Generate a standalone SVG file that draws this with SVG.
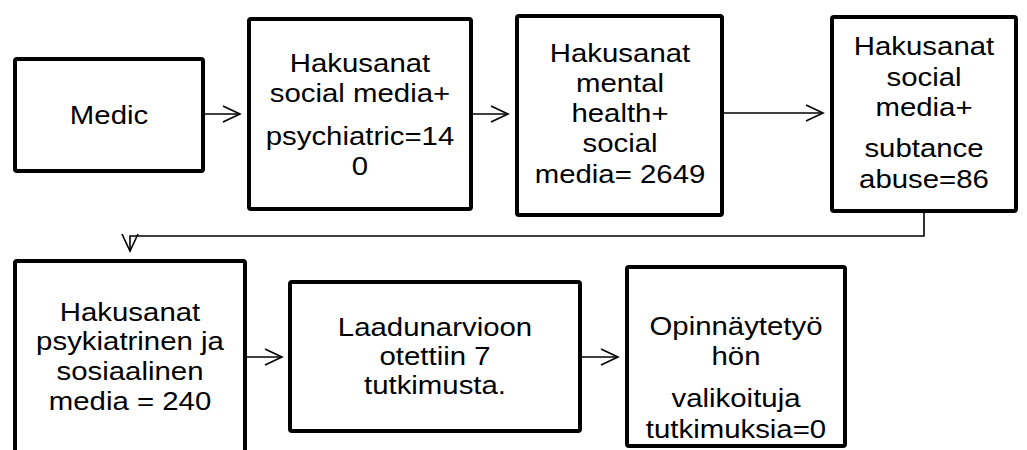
<svg xmlns="http://www.w3.org/2000/svg" width="1027" height="450" viewBox="0 0 1027 450">
  <style>
    .box { fill: #ffffff; stroke: #000000; stroke-width: 4; }
    .lbl { font-family: "Liberation Sans", Arial, sans-serif; font-size: 26px; fill: #000000; text-anchor: middle; }
    .link { fill: none; stroke: #000000; stroke-width: 1.6; marker-end: url(#open); }
  </style>
  <defs>
    <marker id="open" viewBox="0 0 20 20" refX="18" refY="10" markerWidth="20" markerHeight="20" markerUnits="userSpaceOnUse" orient="auto">
      <path d="M1,2 L18,10 L1,18" fill="none" stroke="#000000" stroke-width="1.6"/>
    </marker>
  </defs>

  <!-- connectors -->
  <g id="connectors">
    <path class="link" d="M205,114 H240"/>
    <path class="link" d="M473,114 H508"/>
    <path class="link" d="M724,113 H823"/>
    <path class="link" d="M924,213 V236 H130 V251"/>
    <path class="link" d="M247,357 H282"/>
    <path class="link" d="M582,357 H618"/>
  </g>

  <!-- labels are set slightly wide: scale(1.13 1) around each box centre -->
  <g id="medic">
    <rect class="box" x="15" y="59" width="188" height="112" rx="2"/>
    <text class="lbl" transform="translate(109 0) scale(1.13 1)"><tspan x="0" y="124">Medic</tspan></text>
  </g>

  <g id="search-psychiatric">
    <rect class="box" x="249" y="19" width="222" height="190" rx="2"/>
    <text class="lbl" transform="translate(360 0) scale(1.13 1)"><tspan x="0" y="72">Hakusanat</tspan><tspan x="0" y="102">social media+</tspan><tspan x="0" y="145">psychiatric=14</tspan><tspan x="0" y="175">0</tspan></text>
  </g>

  <g id="search-mental-health">
    <rect class="box" x="517" y="16" width="205" height="199" rx="2"/>
    <text class="lbl" transform="translate(620 0) scale(1.13 1)"><tspan x="0" y="62">Hakusanat</tspan><tspan x="0" y="92">mental</tspan><tspan x="0" y="122">health+</tspan><tspan x="0" y="152">social</tspan><tspan x="0" y="183">media= 2649</tspan></text>
  </g>

  <g id="search-substance">
    <rect class="box" x="832" y="17" width="184" height="194" rx="2"/>
    <text class="lbl" transform="translate(924 0) scale(1.13 1)"><tspan x="0" y="55">Hakusanat</tspan><tspan x="0" y="86">social</tspan><tspan x="0" y="116">media+</tspan><tspan x="0" y="157">subtance</tspan><tspan x="0" y="188">abuse=86</tspan></text>
  </g>

  <g id="search-finnish">
    <rect class="box" x="15" y="261" width="230" height="200" rx="2"/>
    <text class="lbl" transform="translate(130 0) scale(1.13 1)"><tspan x="0" y="321">Hakusanat</tspan><tspan x="0" y="350">psykiatrinen ja</tspan><tspan x="0" y="380">sosiaalinen</tspan><tspan x="0" y="410">media = 240</tspan></text>
  </g>

  <g id="quality-review">
    <rect class="box" x="290" y="282" width="290" height="149" rx="2"/>
    <text class="lbl" transform="translate(435 0) scale(1.13 1)"><tspan x="0" y="336">Laadunarvioon</tspan><tspan x="0" y="365">otettiin 7</tspan><tspan x="0" y="394">tutkimusta.</tspan></text>
  </g>

  <g id="thesis-selected">
    <rect class="box" x="627" y="267" width="218" height="179" rx="2"/>
    <text class="lbl" transform="translate(736 0) scale(1.13 1)"><tspan x="0" y="335">Opinnäytetyö</tspan><tspan x="0" y="365">hön</tspan><tspan x="0" y="407">valikoituja</tspan><tspan x="0" y="438">tutkimuksia=0</tspan></text>
  </g>
</svg>
